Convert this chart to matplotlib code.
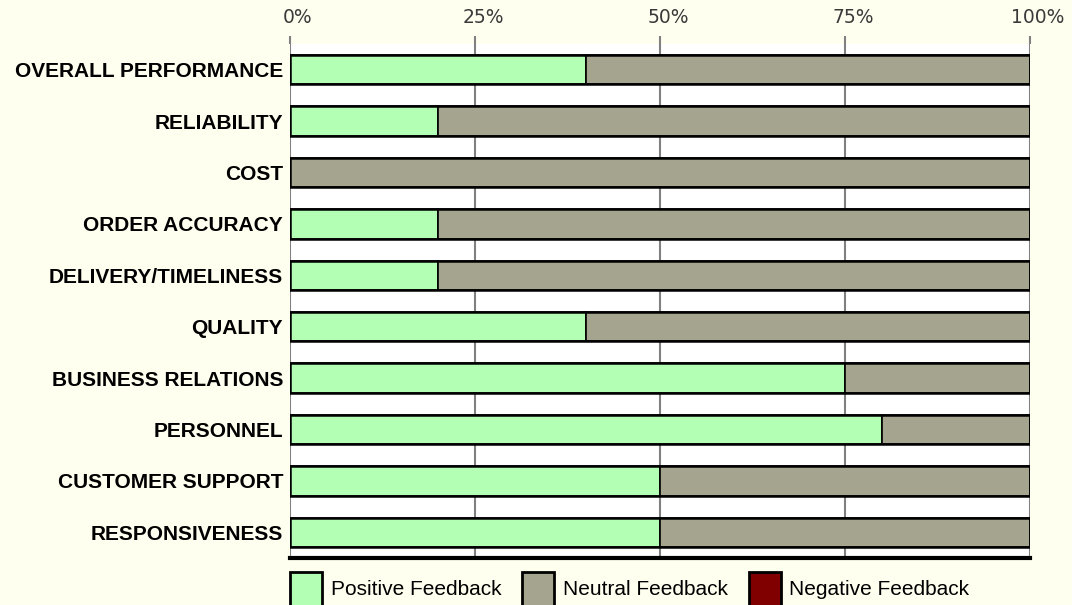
import numpy as np
import matplotlib
matplotlib.use('Agg')
from matplotlib import pyplot as plt
from matplotlib.patches import Patch
from matplotlib.transforms import ScaledTranslation

categories = ['OVERALL PERFORMANCE', 'RELIABILITY', 'COST', 'ORDER ACCURACY',
              'DELIVERY/TIMELINESS', 'QUALITY', 'BUSINESS RELATIONS', 'PERSONNEL',
              'CUSTOMER SUPPORT', 'RESPONSIVENESS']
positive = [40, 20, 0, 20, 20, 40, 75, 80, 50, 50]
neutral = [60, 80, 100, 80, 80, 60, 25, 20, 50, 50]
negative = [0, 0, 0, 0, 0, 0, 0, 0, 0, 0]
tick_values = [0, 25, 50, 75, 100]
tick_labels = ['0%', '25%', '50%', '75%', '100%']

bg = '#FFFFF0'
c_pos, c_neu, c_neg = '#B3FFB3', '#A5A48E', '#800000'

plt.rcParams['font.family'] = ['Liberation Sans', 'DejaVu Sans']

fig = plt.figure(figsize=(10.72, 6.05), dpi=100, facecolor=bg)
ax = fig.add_axes([290 / 1072, 1 - 558 / 605, 740 / 1072, 514 / 605])
ax.set_facecolor('white')

y = np.arange(len(categories))
pos = np.array(positive)
neu = np.array(neutral)
neg = np.array(negative)
h = 0.57
ax.barh(y, pos, height=h, color=c_pos, edgecolor='black', linewidth=1.2, zorder=3)
ax.barh(y, neu, left=pos, height=h, color=c_neu, edgecolor='black', linewidth=1.2, zorder=3)
ax.barh(y, neg, left=pos + neu, height=h, color=c_neg, edgecolor='none', linewidth=0, zorder=3)
# bar outlines
ax.barh(y, pos + neu + neg, height=h, fill=False, edgecolor='black', linewidth=1.8, zorder=4)

ax.set_ylim(len(categories) - 0.5, -0.5)
ax.set_xlim(0, 100)
ax.set_yticks(y)
ax.set_yticklabels(categories, fontsize=15, fontweight='bold')
ax.tick_params(axis='y', length=0, pad=5)

ax.xaxis.tick_top()
ax.set_xticks(tick_values)
ax.set_xticklabels(tick_labels, fontsize=13.5, color='#3a3a3a', family='DejaVu Sans')
ax.tick_params(axis='x', length=6, width=1.5, color='#808080', pad=6)
for lbl in ax.get_xticklabels():
    lbl.set_transform(lbl.get_transform() + ScaledTranslation(8 / 100, 0, fig.dpi_scale_trans))

ax.grid(axis='x', color='#808080', linewidth=1.5, zorder=1)
ax.grid(axis='y', visible=False)
for s in ['top', 'left', 'right']:
    ax.spines[s].set_visible(False)
ax.spines['bottom'].set_linewidth(3)
ax.spines['bottom'].set_color('black')

handles = [Patch(facecolor=c_pos, edgecolor='black', linewidth=2, label='Positive Feedback'),
           Patch(facecolor=c_neu, edgecolor='black', linewidth=2, label='Neutral Feedback'),
           Patch(facecolor=c_neg, edgecolor='black', linewidth=2, label='Negative Feedback')]
fig.legend(handles=handles, loc='upper left', bbox_to_anchor=(290 / 1072, 1 - 572 / 605),
           ncol=3, frameon=False, fontsize=15, handlelength=1.55, handleheight=2.1,
           handletextpad=0.4, columnspacing=1.0, borderaxespad=0, borderpad=0)

fig.savefig('out.png', dpi=100, facecolor=bg)
